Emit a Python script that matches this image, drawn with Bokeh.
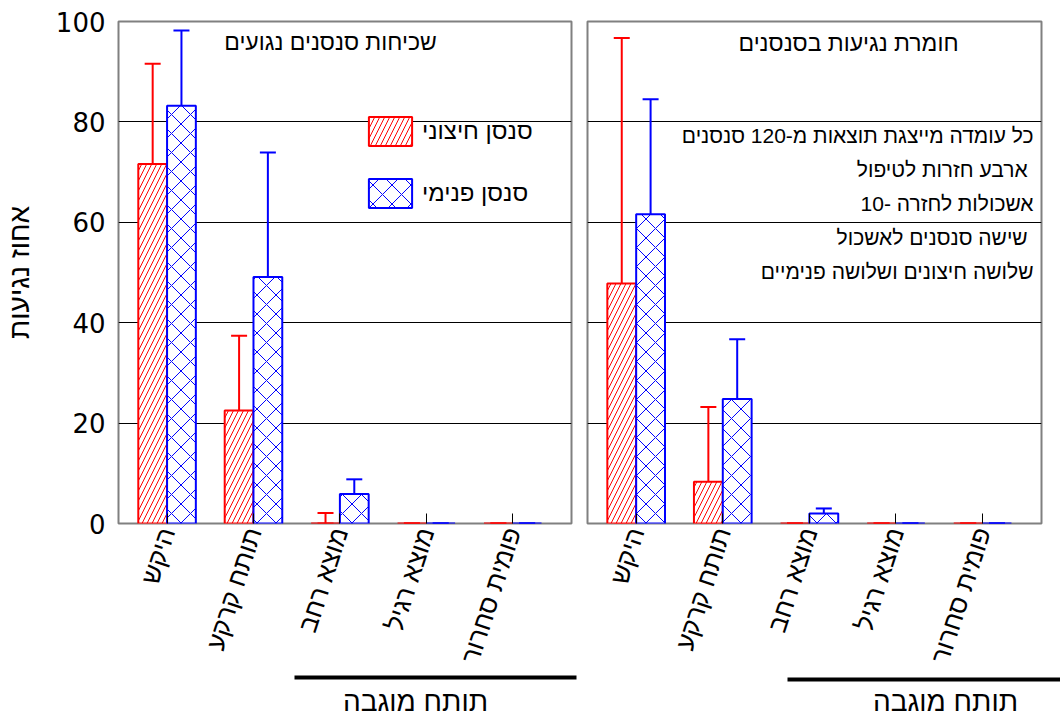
from bokeh.plotting import figure
from bokeh.models import (Range1d, Whisker, TeeHead, Label, Legend,
                          LegendItem, FixedTicker, ColumnDataSource)
from bokeh.layouts import row, column
from bokeh.embed import file_html
from bokeh.resources import INLINE
from bokeh.core.properties import value

# ---------------- data ----------------
categories = ["היקש", "תותח קרקע", "מוצא רחב", "מוצא רגיל", "פומית סחרור"]
series_names = ["סנסן חיצוני", "סנסן פנימי"]

# panel 1: prevalence of infested fruits (%)
prev_outer = [71.6, 22.5, 0, 0, 0]
prev_outer_lo = [51.6, 7.4, 0, 0, 0]
prev_outer_hi = [91.6, 37.4, 2.1, 0, 0]
prev_inner = [83.2, 49.1, 5.9, 0, 0]
prev_inner_lo = [68.3, 24.1, 2.8, 0, 0]
prev_inner_hi = [98.2, 73.9, 8.8, 0, 0]

# panel 2: severity of infestation (%)
sev_outer = [47.8, 8.3, 0, 0, 0]
sev_outer_lo = [0, 0, 0, 0, 0]
sev_outer_hi = [96.7, 23.2, 0, 0, 0]
sev_inner = [61.6, 24.8, 2.0, 0, 0]
sev_inner_lo = [38.7, 12.9, 1.0, 0, 0]
sev_inner_hi = [84.5, 36.7, 3.0, 0, 0]

y_ticks = [0, 20, 40, 60, 80, 100]
panel_titles = ["שכיחות סנסנים נגועים", "חומרת נגיעות בסנסנים"]
notes = ["כל עומדה מייצגת תוצאות מ-120 סנסנים",
         "ארבע חזרות לטיפול ",
         "אשכולות לחזרה -10",
         "שישה סנסנים לאשכול ",
         "שלושה חיצונים ושלושה פנימיים"]
y_title = "אחוז נגיעות"
group_label = "תותח מוגבה"

HEB = "Liberation Sans"
NUM = "DejaVu Sans"
RED = "#ff0000"
BLUE = "#0000ff"
BAR_W = 0.333
OFF = 0.1665
MAIN_H = 674


def make_panel(outer, o_lo, o_hi, inner, i_lo, i_hi, first, width, bl, br):
    p = figure(width=width, height=MAIN_H,
               x_range=Range1d(-0.562, 4.68), y_range=Range1d(0, 100),
               output_backend="svg", toolbar_location=None,
               min_border_left=bl, min_border_right=br,
               min_border_top=21, min_border_bottom=MAIN_H - 21 - 504)
    p.background_fill_color = "white"
    p.border_fill_color = "white"
    p.outline_line_color = "#808080"
    p.outline_line_width = 2

    xs = list(range(len(categories)))
    src = ColumnDataSource(dict(
        xo=[x - OFF for x in xs], xi=[x + OFF for x in xs],
        outer=outer, o_lo=o_lo, o_hi=o_hi,
        inner=inner, i_lo=i_lo, i_hi=i_hi))

    r_out = p.vbar(x="xo", top="outer", bottom=0, width=BAR_W, source=src,
                   fill_color="white", line_color=RED, line_width=2,
                   hatch_pattern="/", hatch_color=RED, hatch_scale=10,
                   hatch_weight=1)
    r_in = p.vbar(x="xi", top="inner", bottom=0, width=BAR_W, source=src,
                  fill_color="white", line_color=BLUE, line_width=2,
                  hatch_pattern="x", hatch_color=BLUE, hatch_scale=19,
                  hatch_weight=1)

    for base, lo, hi, col in (("xo", "o_lo", "o_hi", RED),
                              ("xi", "i_lo", "i_hi", BLUE)):
        w = Whisker(source=src, base=base, lower=lo, upper=hi,
                    line_color=col, line_width=2,
                    upper_head=TeeHead(size=16, line_color=col, line_width=2),
                    lower_head=TeeHead(size=16, line_color=col, line_width=2))
        p.add_layout(w)

    # x axis: inward ticks at the categories, rotated names
    p.xaxis.ticker = FixedTicker(ticks=xs)
    p.xaxis.major_label_overrides = {i: c for i, c in enumerate(categories)}
    p.xaxis.major_label_orientation = 1.257
    p.xaxis.major_label_text_font = HEB
    p.xaxis.major_label_text_font_size = "26px"
    p.xaxis.major_label_text_color = "black"
    p.xaxis.major_label_standoff = 5
    p.xaxis.axis_line_color = None
    p.xaxis.major_tick_in = 10
    p.xaxis.major_tick_out = 0
    p.xaxis.major_tick_line_color = "black"
    p.xaxis.minor_tick_line_color = None

    p.yaxis.ticker = FixedTicker(ticks=y_ticks)
    p.yaxis.axis_line_color = None
    p.yaxis.major_tick_line_color = None
    p.yaxis.minor_tick_line_color = None
    p.yaxis.major_label_text_font = NUM
    p.yaxis.major_label_text_font_size = "26px"
    p.yaxis.major_label_text_color = "black"
    p.yaxis.major_label_standoff = 7
    if first:
        p.yaxis.axis_label = y_title
        p.yaxis.axis_label_text_font = HEB
        p.yaxis.axis_label_text_font_size = "28px"
        p.yaxis.axis_label_text_font_style = "normal"
        p.yaxis.axis_label_text_color = "black"
        p.yaxis.axis_label_standoff = 18
    else:
        p.yaxis.visible = False

    p.xgrid.grid_line_color = None
    p.ygrid.grid_line_color = "black"
    p.ygrid.grid_line_width = 1
    p.ygrid.ticker = FixedTicker(ticks=y_ticks)

    return p, r_out, r_in


p1, r1o, r1i = make_panel(prev_outer, prev_outer_lo, prev_outer_hi,
                          prev_inner, prev_inner_lo, prev_inner_hi,
                          True, 579, 117, 8)
p2, r2o, r2i = make_panel(sev_outer, sev_outer_lo, sev_outer_hi,
                          sev_inner, sev_inner_lo, sev_inner_hi,
                          False, 481, 8, 19)

# panel titles
p1.add_layout(Label(x=212, y=482, x_units="screen", y_units="screen",
                    text=panel_titles[0], text_align="center",
                    text_baseline="middle", text_font=HEB,
                    text_font_size="23px", text_color="black"))
p2.add_layout(Label(x=261, y=481, x_units="screen", y_units="screen",
                    text=panel_titles[1], text_align="center",
                    text_baseline="middle", text_font=HEB,
                    text_font_size="23px", text_color="black"))

# notes in right panel
for i, t in enumerate(notes):
    p2.add_layout(Label(x=446, y=388 - 34 * i, x_units="screen",
                        y_units="screen", text=t, text_align="right",
                        text_baseline="middle", text_font=HEB,
                        text_font_size="21px", text_color="black"))

# legend
legend = Legend(items=[LegendItem(label=series_names[0], renderers=[r1o]),
                       LegendItem(label=series_names[1], renderers=[r1i])],
                location=(245, 312), orientation="vertical",
                glyph_width=54, glyph_height=36, label_height=36,
                spacing=26, label_standoff=5, padding=0, margin=0,
                border_line_color=None, background_fill_alpha=0,
                label_text_font=HEB, label_text_font_size="24px",
                label_text_color="black")
p1.add_layout(legend)

# strip under the panels: bracket + group label for the elevated cannons
STRIP_H = 718 - MAIN_H
strip = figure(width=1060, height=STRIP_H, x_range=Range1d(0, 1060),
               y_range=Range1d(STRIP_H, 0), output_backend="svg",
               toolbar_location=None, min_border=0)
strip.axis.visible = False
strip.grid.grid_line_color = None
strip.outline_line_color = None
strip.background_fill_color = "white"
strip.border_fill_color = "white"

br_x0 = [294, 787]
br_x1 = [576, 1060]
br_y = [3, 5]
lab_x = [415, 945]
lab_y = [27, 27]
strip.segment(x0=br_x0, x1=br_x1, y0=br_y, y1=br_y, line_color="black",
              line_width=4)
strip.text(x=lab_x, y=lab_y, text=[group_label, group_label],
           text_align="center", text_baseline="middle",
           text_font=value(HEB), text_font_size="28px", text_color="black")

layout = column(row(p1, p2, spacing=0), strip, spacing=0)
open("out.html", "w").write(file_html(layout, INLINE))
